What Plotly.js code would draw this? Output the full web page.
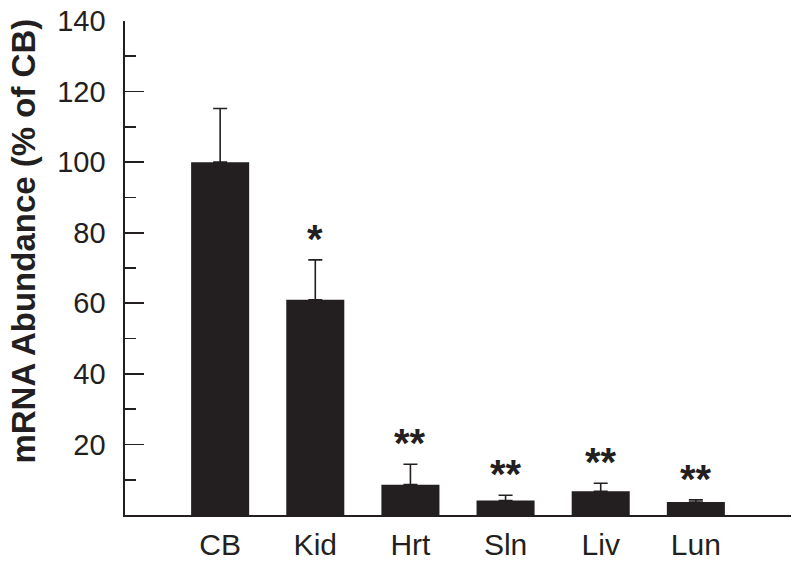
<!DOCTYPE html>
<html>
<head>
<meta charset="utf-8">
<script src="https://cdn.plot.ly/plotly-3.0.1.min.js"></script>
<style>html,body{margin:0;padding:0;background:#fff;}#chart{width:800px;height:563px;}</style>
</head>
<body>
<div id="chart"></div>
<script>
const categories = ["CB", "Kid", "Hrt", "Sln", "Liv", "Lun"];
const meanValues = [100, 61, 8.6, 4.1, 6.7, 3.7];
const errorValues = [15.2, 11.3, 5.8, 1.5, 2.3, 0.6];
const significance = ["", "*", "**", "**", "**", "**"];
const yTickValues = [20, 40, 60, 80, 100, 120, 140];
const yMinorTicks = [10, 30, 50, 70, 90, 110, 130];

const ink = "#231f20";
const fontFamily = "Liberation Sans, Arial, sans-serif";

const trace = {
  type: "bar",
  x: categories,
  y: meanValues,
  width: 0.61,
  marker: {color: ink, line: {width: 0}},
  error_y: {
    type: "data",
    symmetric: false,
    array: errorValues,
    arrayminus: meanValues.map(() => 0),
    color: ink,
    thickness: 1.6,
    width: 7
  },
  hoverinfo: "none"
};

const annotations = categories.map((c, i) => ({
  x: c, y: meanValues[i] + errorValues[i] + 8,
  xref: "x", yref: "y",
  text: significance[i],
  showarrow: false,
  yanchor: "middle",
  yshift: -7,
  font: {family: fontFamily, size: 40, color: ink, weight: "bold"}
})).filter(a => a.text !== "");

annotations.push({
  xref: "paper", yref: "paper",
  x: -0.152, y: 0.555,
  xanchor: "center", yanchor: "middle",
  text: "<b>mRNA Abundance (% of CB)</b>",
  textangle: -90,
  showarrow: false,
  font: {family: fontFamily, size: 33, color: ink}
});

const layout = {
  width: 800, height: 563,
  margin: {l: 125, r: 9, t: 21, b: 48, pad: 0},
  paper_bgcolor: "#fff",
  plot_bgcolor: "#fff",
  showlegend: false,
  font: {family: fontFamily, color: ink},
  xaxis: {
    type: "category",
    range: [-1, 6],
    showline: true, linecolor: ink, linewidth: 1.6,
    ticks: "", showgrid: false, zeroline: false,
    tickfont: {family: fontFamily, size: 30, color: ink},
    ticklabelstandoff: 2
  },
  yaxis: {
    range: [0, 140],
    showline: true, linecolor: ink, linewidth: 1.6,
    tickmode: "array", tickvals: yTickValues,
    ticks: "inside", ticklen: 19, tickwidth: 1.6, tickcolor: ink,
    showgrid: false, zeroline: false,
    tickfont: {family: fontFamily, size: 29, color: ink},
    ticklabelstandoff: 12,
    minor: {tickmode: "array", tickvals: yMinorTicks, ticks: "inside", ticklen: 11, tickwidth: 1.6, tickcolor: ink, showgrid: false}
  },
  annotations: annotations
};

Plotly.newPlot("chart", [trace], layout, {displayModeBar: false, staticPlot: true});
</script>
</body>
</html>
